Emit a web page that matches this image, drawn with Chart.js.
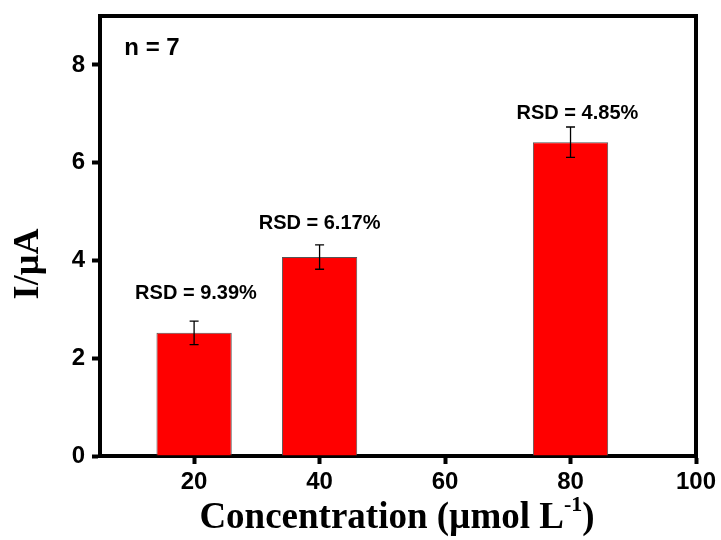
<!DOCTYPE html>
<html>
<head>
<meta charset="utf-8">
<script src="https://cdn.jsdelivr.net/npm/chart.js@4.4.0/dist/chart.umd.min.js"></script>
<style>
  body { margin: 0; background: #fff; }
  #wrap { width: 721px; height: 540px; }
</style>
</head>
<body>
<div id="wrap"><canvas id="myChart"></canvas></div>
<script>
// data
var concentrations = [20, 40, 80];
var currents = [2.52, 4.07, 6.42];
var errors = [0.24, 0.25, 0.31];
var rsdLabels = ['RSD = 9.39%', 'RSD = 6.17%', 'RSD = 4.85%'];
var rsdLabelX = [20.3, 40, 81.1];
var rsdLabelY = [3.33, 4.75, 7.0];
var xTicks = [20, 40, 60, 80, 100];
var yTicks = [0, 2, 4, 6, 8];

var barData = concentrations.map(function (c, i) { return { x: c, y: currents[i] }; });

// error bars + RSD text + frame + titles
var extras = {
    id: 'extras',
    afterDatasetsDraw: function (chart) {
        var ctx = chart.ctx;
        var xs = chart.scales.x, ys = chart.scales.y;
        var a = chart.chartArea;

        ctx.save();
        ctx.strokeStyle = '#000';
        ctx.lineWidth = 1.3;
        for (var i = 0; i < concentrations.length; i++) {
            var px = xs.getPixelForValue(concentrations[i]);
            var top = ys.getPixelForValue(currents[i] + errors[i]);
            var bot = ys.getPixelForValue(currents[i] - errors[i]);
            ctx.beginPath();
            ctx.moveTo(px, top); ctx.lineTo(px, bot);
            ctx.moveTo(px - 4.5, top); ctx.lineTo(px + 4.5, top);
            ctx.moveTo(px - 4.5, bot); ctx.lineTo(px + 4.5, bot);
            ctx.stroke();
        }

        ctx.fillStyle = '#000';
        ctx.textAlign = 'center';
        ctx.textBaseline = 'middle';
        ctx.font = 'bold 20px "Liberation Sans", Arial, sans-serif';
        for (var j = 0; j < rsdLabels.length; j++) {
            ctx.fillText(rsdLabels[j], xs.getPixelForValue(rsdLabelX[j]), ys.getPixelForValue(rsdLabelY[j]));
        }
        ctx.font = 'bold 24px "Liberation Sans", Arial, sans-serif';
        ctx.fillText('n = 7', 152, 48);

        // top and right sides of the box
        ctx.lineWidth = 4;
        ctx.beginPath();
        ctx.moveTo(a.left - 2, a.top);
        ctx.lineTo(a.right, a.top);
        ctx.lineTo(a.right, a.bottom + 2);
        ctx.stroke();

        // axis titles
        ctx.font = 'bold 37px "Liberation Serif", "Times New Roman", serif';
        ctx.textBaseline = 'alphabetic';
        var t1 = 'Concentration (\u00b5mol L';
        var w1 = ctx.measureText(t1).width;
        ctx.font = 'bold 22px "Liberation Serif", "Times New Roman", serif';
        var w2 = ctx.measureText('-1').width;
        ctx.font = 'bold 37px "Liberation Serif", "Times New Roman", serif';
        var w3 = ctx.measureText(')').width;
        var x0 = 397 - (w1 + w2 + w3) / 2;
        ctx.textAlign = 'left';
        ctx.fillText(t1, x0, 528);
        ctx.font = 'bold 22px "Liberation Serif", "Times New Roman", serif';
        ctx.fillText('-1', x0 + w1, 511);
        ctx.font = 'bold 37px "Liberation Serif", "Times New Roman", serif';
        ctx.fillText(')', x0 + w1 + w2, 528);

        ctx.translate(38, 264);
        ctx.rotate(-Math.PI / 2);
        ctx.textAlign = 'center';
        ctx.font = 'bold 36px "Liberation Serif", "Times New Roman", serif';
        ctx.fillText('I/\u00b5A', 0, 0);
        ctx.restore();
    }
};

var ctx = document.getElementById('myChart');
var myChart = new Chart(ctx, {
    type: 'bar',
    data: {
        datasets: [{
            data: barData,
            backgroundColor: '#ff0000',
            borderColor: '#555555',
            borderWidth: 1,
            barPercentage: 0.6,
            categoryPercentage: 1
        }]
    },
    options: {
        responsive: true,
        maintainAspectRatio: false,
        animation: false,
        layout: { padding: { top: 16, right: 25, left: 0, bottom: 0 } },
        plugins: {
            legend: { display: false },
            tooltip: { enabled: false }
        },
        scales: {
            x: {
                type: 'linear',
                min: 5,
                max: 100,
                offset: false,
                afterFit: function (s) { s.height = 84; s.paddingLeft = 0; s.paddingRight = 0; },
                afterBuildTicks: function (s) { s.ticks = xTicks.map(function (v) { return { value: v }; }); },
                grid: { offset: false, drawOnChartArea: false, drawTicks: true, tickLength: 8, tickWidth: 4, tickColor: '#000' },
                border: { display: true, width: 4, color: '#000' },
                ticks: {
                    color: '#000',
                    padding: 4,
                    maxRotation: 0,
                    font: { family: '"Liberation Sans", Arial, sans-serif', size: 24, weight: 'bold' }
                }
            },
            y: {
                min: 0,
                max: 9,
                afterFit: function (s) { s.width = 100; s.paddingTop = 0; s.paddingBottom = 0; },
                afterBuildTicks: function (s) { s.ticks = yTicks.map(function (v) { return { value: v }; }); },
                grid: { drawOnChartArea: false, drawTicks: true, tickLength: 8, tickWidth: 4, tickColor: '#000' },
                border: { display: true, width: 4, color: '#000' },
                ticks: {
                    color: '#000',
                    padding: 7,
                    font: { family: '"Liberation Sans", Arial, sans-serif', size: 24, weight: 'bold' }
                }
            }
        }
    },
    plugins: [extras]
});
</script>
</body>
</html>
